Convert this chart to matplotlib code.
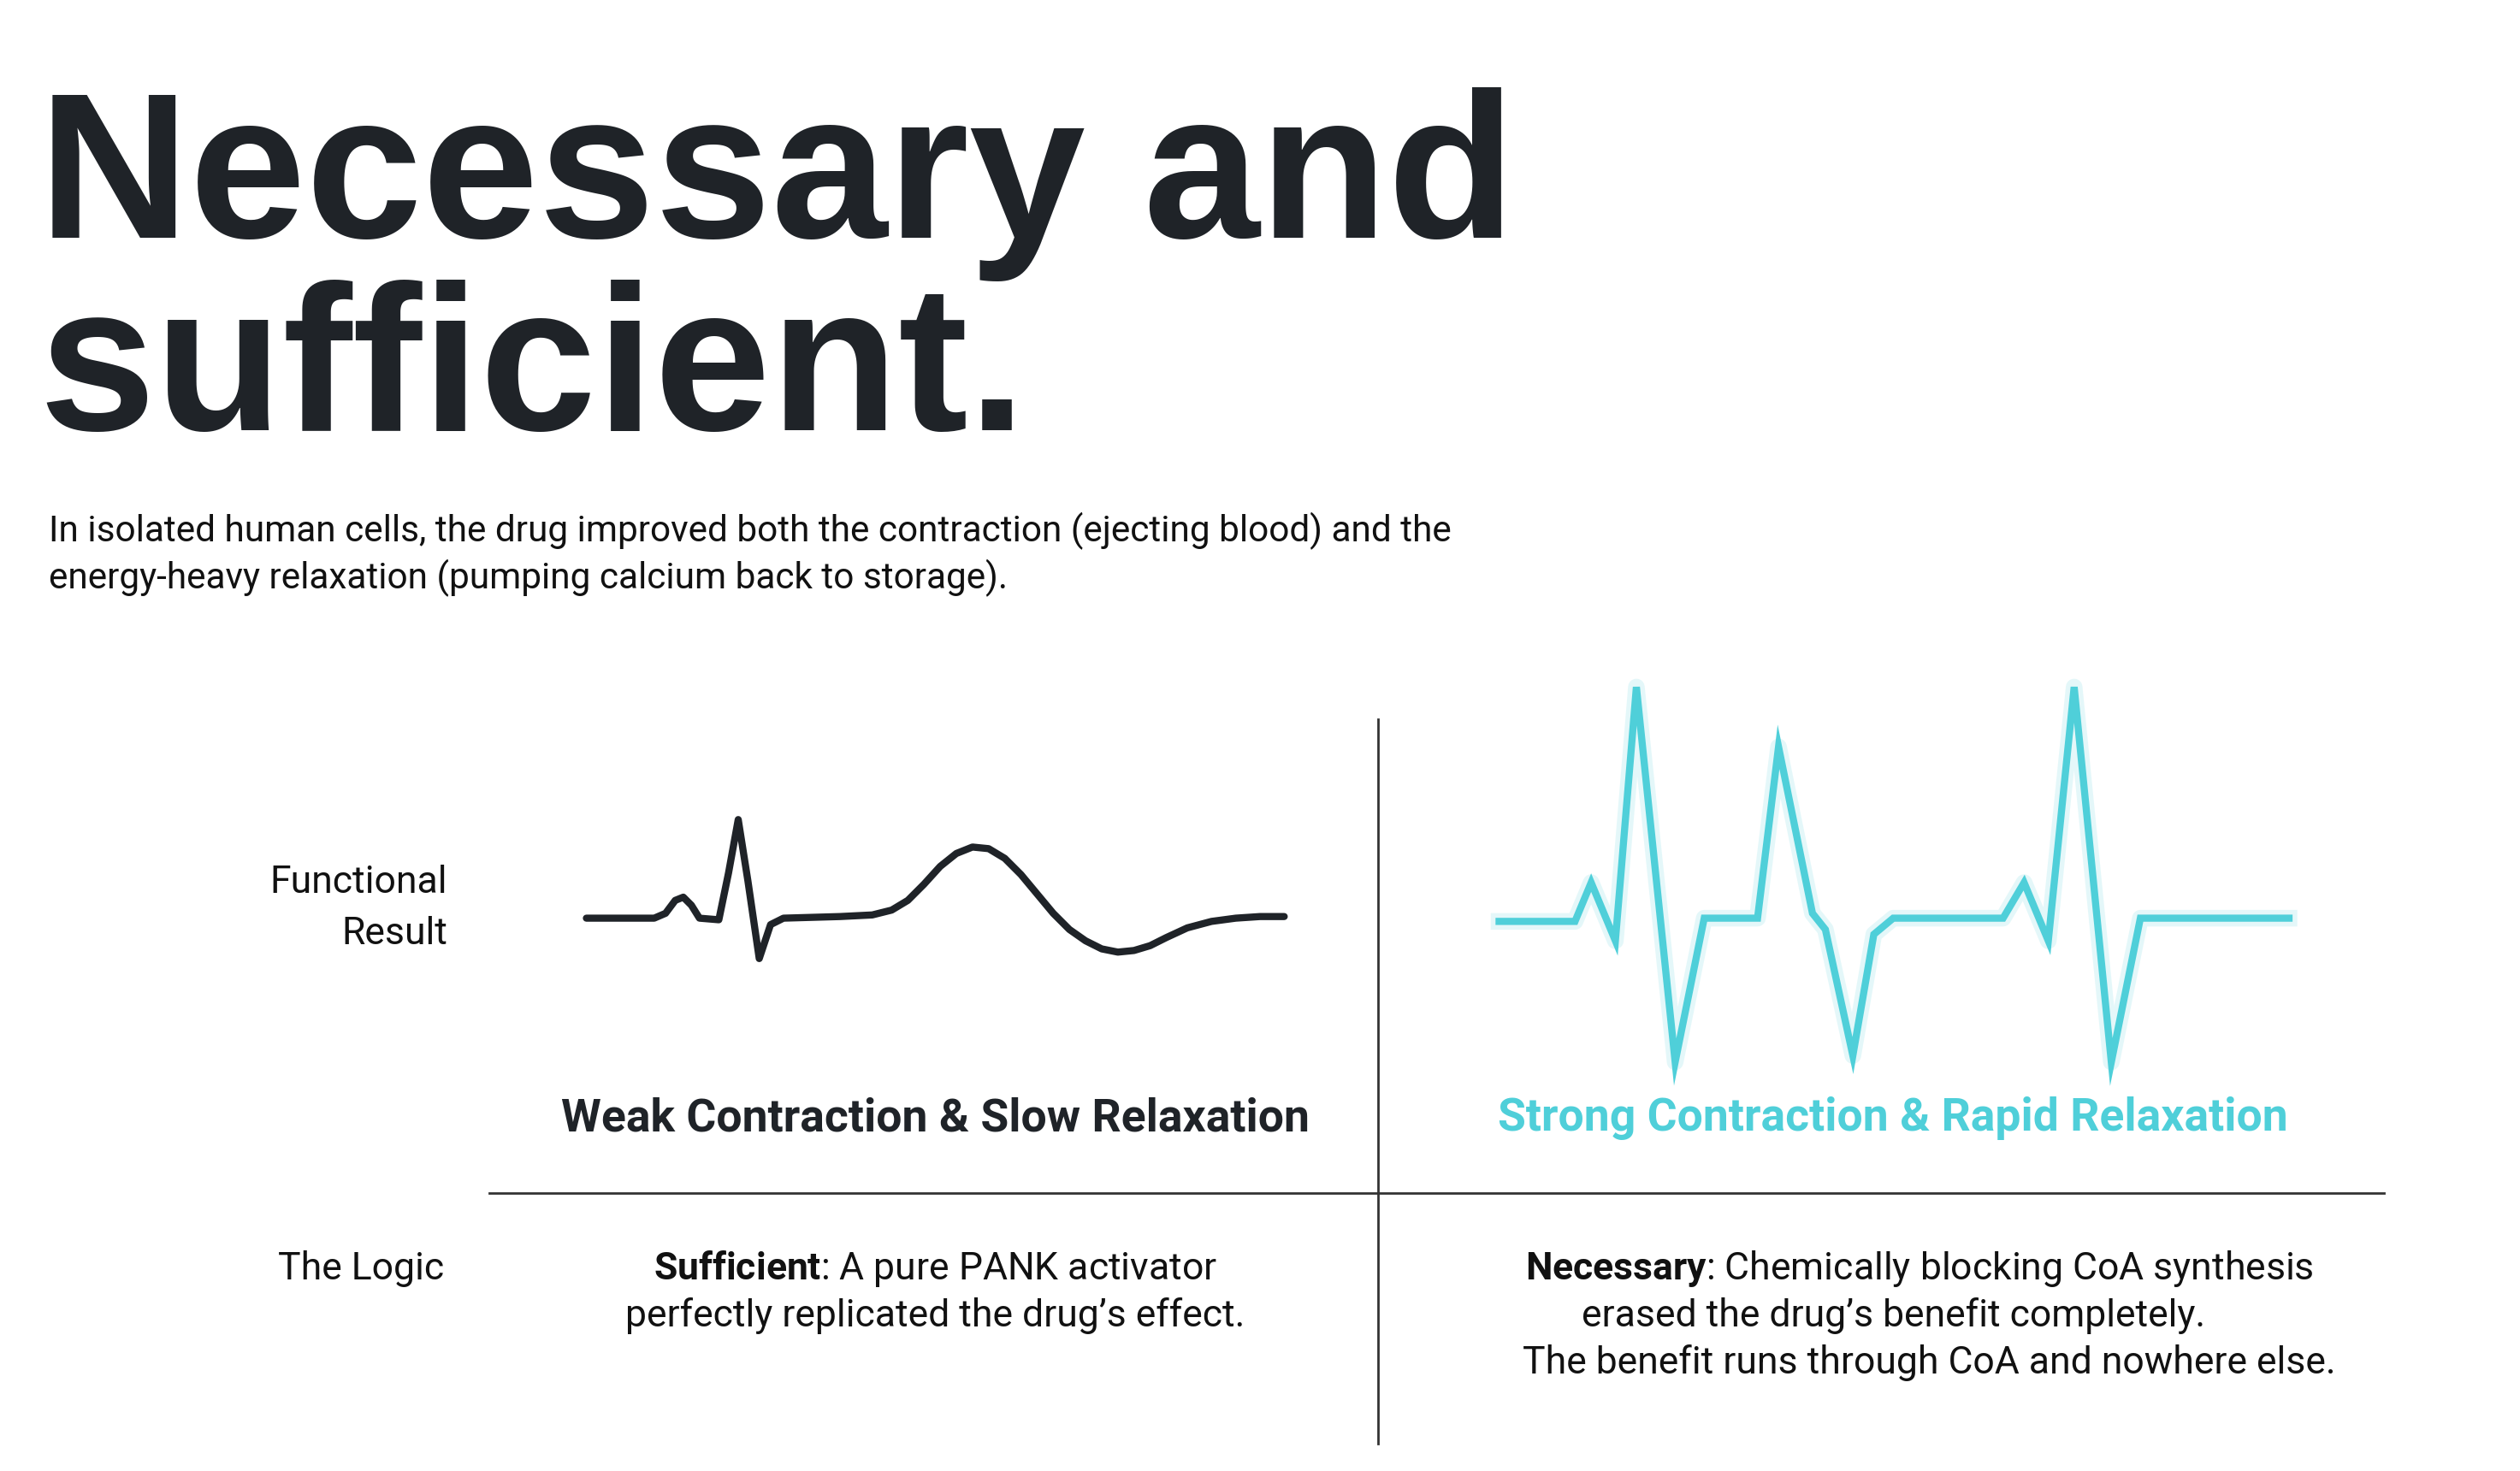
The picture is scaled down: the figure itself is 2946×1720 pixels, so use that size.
import matplotlib
matplotlib.use("Agg")
import matplotlib.pyplot as plt

plt.rcParams['font.family'] = ['Roboto', 'DejaVu Sans']
plt.rcParams['mathtext.fontset'] = 'custom'
plt.rcParams['mathtext.rm'] = 'Roboto'
plt.rcParams['mathtext.bf'] = 'Roboto:bold'

title_lines = ["Necessary and", "sufficient."]
subtitle_lines = ["In isolated human cells, the drug improved both the contraction (ejecting blood) and the",
                  "energy-heavy relaxation (pumping calcium back to storage)."]
weak_x = [363,405,412,418,423,428,433,445,451,457,463,470,477,485,520,540,552,562,572,582,592,602,612,622,632,642,652,662,672,682,692,702,712,722,735,750,765,780,795]
weak_y = [568,568,565,557,555,560,568,569,540,507,545,593,572,568,567,566,563,557,547,536,528,524,525,531,541,553,565,575,582,587,589,588,585,580,574,570,568,567,567]
strong_x = [928,975,985,1000,1013,1037,1055,1088,1101,1122,1130,1147,1160,1172,1240,1253,1268,1284,1307,1325,1417]
strong_y = [570,570,546,582,425,657,568,568,462,565,575,653,578,568,568,546,582,425,657,568,568]
cyan = '#4fcfd9'
dark = '#1f2328'

fig = plt.figure(figsize=(29.46, 17.2), dpi=100)
ax = fig.add_axes([0, 0, 1, 1])
ax.set_xlim(0, 1560); ax.set_ylim(910, 0); ax.axis('off')

tf = dict(fontsize=176, fontweight='bold', color=dark, va='baseline', family=['Liberation Sans'])
ax.text(24, 147, title_lines[0], **tf)
ax.text(24, 266, title_lines[1], **tf)
ax.text(30, 335, subtitle_lines[0], fontsize=30.5, color='#111111', va='baseline')
ax.text(30, 364, subtitle_lines[1], fontsize=30.5, color='#111111', va='baseline')

ax.plot([853, 853], [445, 893], color='#333333', lw=2)
ax.plot([303, 1476], [738, 738], color='#333333', lw=2)

ax.text(277, 546, "Functional", fontsize=32, ha='right', va='center', color='#111111')
ax.text(277, 578, "Result", fontsize=32, ha='right', va='center', color='#111111')
ax.text(275, 785, "The Logic", fontsize=32, ha='right', va='center', color='#111111')

ax.plot(weak_x, weak_y, color=dark, lw=6, solid_joinstyle='round', solid_capstyle='round')
ax.plot(strong_x, strong_y, color=cyan, lw=14, alpha=0.15, solid_joinstyle='round')
ax.plot(strong_x, strong_y, color=cyan, lw=6, solid_joinstyle='miter')

ax.text(579, 692, "Weak Contraction & Slow Relaxation", fontsize=38.5, fontweight='bold', ha='center', va='center', color=dark)
ax.text(1172, 692, "Strong Contraction & Rapid Relaxation", fontsize=38.5, fontweight='bold', ha='center', va='center', color=cyan)

lf = dict(fontsize=32, ha='center', va='center', color='#111111')
ax.text(579, 785, r"$\bf{Sufficient}$: A pure PANK activator", **lf)
ax.text(579, 814, "perfectly replicated the drug\u2019s effect.", **lf)
ax.text(1188, 785, r"$\bf{Necessary}$: Chemically blocking CoA synthesis", **lf)
ax.text(1172, 814, "erased the drug\u2019s benefit completely.", **lf)
ax.text(1194, 843, "The benefit runs through CoA and nowhere else.", **lf)

fig.savefig("out.png", dpi=100, facecolor='white')
